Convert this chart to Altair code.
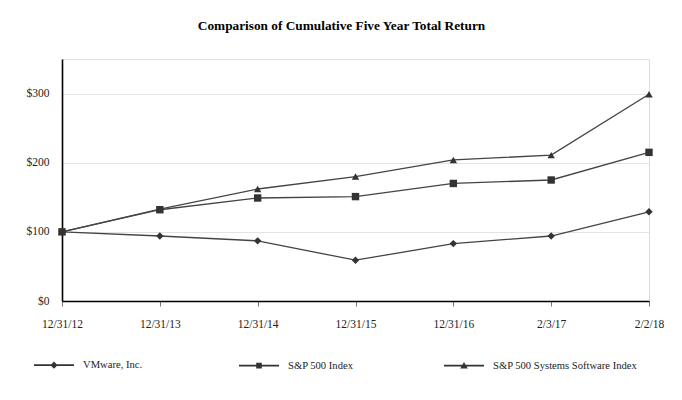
import altair as alt
import pandas as pd

dates = ["12/31/12", "12/31/13", "12/31/14", "12/31/15", "12/31/16", "2/3/17", "2/2/18"]
series = ["VMware, Inc.", "S&P 500 Index", "S&P 500 Systems Software Index"]
vmware = [100, 94, 87, 59, 83, 94, 129]
sp500 = [100, 132, 149, 151, 170, 175, 215]
software = [100, 133, 162, 180, 204, 211, 299]
y_ticks = [0, 100, 200, 300]

rows = []
for name, vals in zip(series, [vmware, sp500, software]):
    for d, v in zip(dates, vals):
        rows.append({"date": d, "series": name, "value": v})
df = pd.DataFrame(rows)

FONT = "Liberation Serif"
INK = "#333333"

x = alt.X("date:O", sort=dates, scale=alt.Scale(type="point", padding=0),
          axis=alt.Axis(title=None, labelAngle=0, labelPadding=12, tickSize=5,
                        tickColor="#777777", tickWidth=1, grid=False,
                        domainColor="#000000", domainWidth=1.6,
                        labelFont=FONT, labelFontSize=11.5, labelColor="#222222"))
y = alt.Y("value:Q", scale=alt.Scale(domain=[0, 350], nice=False),
          axis=alt.Axis(title=None, values=y_ticks, labelExpr="'$' + datum.value",
                        ticks=False, labelPadding=13, grid=True, gridColor="#e3e3e3",
                        gridWidth=1.2, domainColor="#000000", domainWidth=1.6,
                        labelFont=FONT, labelFontSize=11.5, labelColor="#222222"))

base = alt.Chart(df)

lines = base.mark_line(color="#444444", strokeWidth=1.3).encode(
    x=x, y=y, detail="series:N"
)

points = base.mark_point(filled=True, size=55, color=INK, opacity=1).encode(
    x=x, y=y,
    shape=alt.Shape("series:N",
                    scale=alt.Scale(domain=series, range=["diamond", "square", "triangle-up"]),
                    legend=None),
)

# legend glyphs: a short line with the series marker on it (all clockwise, filled)
legend_paths = [
    "M-1,-0.045H1V0.045H-1ZM0,-0.18L0.18,0L0,0.18L-0.18,0Z",
    "M-1,-0.045H1V0.045H-1ZM-0.14,-0.14H0.14V0.14H-0.14Z",
    "M-1,-0.045H1V0.045H-1ZM0,-0.18L0.19,0.14H-0.19Z",
]

legend_layer = base.mark_point(filled=True, opacity=0, color=INK).encode(
    x=x, y=y,
    shape=alt.Shape("series:N",
                    scale=alt.Scale(domain=series, range=legend_paths),
                    legend=alt.Legend(title=None, orient="none", legendX=-29, legendY=285,
                                      direction="horizontal", columns=3, gridAlign="all",
                                      columnPadding=8, symbolSize=1600,
                                      symbolOpacity=1, symbolFillColor="#444444",
                                      labelOffset=8, labelFont=FONT, labelFontSize=10.6,
                                      labelColor="#222222", padding=0, labelLimit=400)),
)

chart = alt.layer(lines, points, legend_layer).resolve_scale(shape="independent").properties(
    width=587, height=242,
    autosize="none",
    padding={"left": 62, "top": 59, "right": 33, "bottom": 99},
    title=alt.TitleParams("Comparison of Cumulative Five Year Total Return",
                          font=FONT, fontSize=13.3, fontWeight="bold", color="#000000",
                          anchor="middle", dx=-14, offset=27),
).configure_view(stroke=None).configure(background="white")

chart.save("out.html", embed_options={"renderer": "svg", "actions": False})
